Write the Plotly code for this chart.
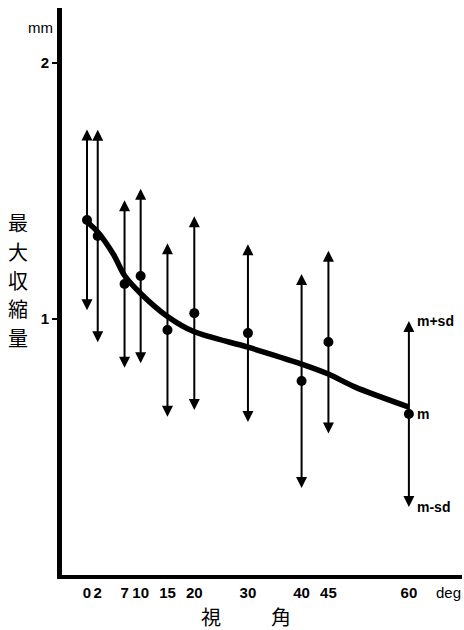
import plotly.graph_objects as go

# Viewing angle (deg) and maximum contraction (mm): mean and standard deviation
angles = [0, 2, 7, 10, 15, 20, 30, 40, 45, 60]
means = [1.387, 1.324, 1.137, 1.168, 0.957, 1.023, 0.945, 0.758, 0.910, 0.629]
sds = [0.353, 0.415, 0.327, 0.341, 0.339, 0.378, 0.347, 0.418, 0.357, 0.363]

# Smoothed trend curve
curve_x = [0, 2, 5, 7, 10, 15, 20, 30, 40, 45, 50, 60]
curve_y = [1.38, 1.34, 1.25, 1.17, 1.10, 1.01, 0.95, 0.89, 0.824, 0.785, 0.734, 0.656]

x_tick_vals = angles
x_tick_text = ["0", "2", "7", "10", "15", "20", "30", "40", "45", "60"]
y_tick_vals = [1, 2]
y_tick_text = ["1", "2"]

y_title_chars = ["最", "大", "収", "縮", "量"]
x_title_chars = ["視", "角"]

LAT = "Liberation Sans"
CJK = "Noto Sans CJK JP"

W, H = 464, 630
ML, MR, MT, MB = 62, 2, 8, 55
pw, ph = W - ML - MR, H - MT - MB


def px_to_paper(px, py):
    return (px - ML) / pw, (H - MB - py) / ph


fig = go.Figure()

fig.add_trace(go.Scatter(
    x=curve_x, y=curve_y, mode="lines",
    line=dict(color="black", width=5.5, shape="spline", smoothing=0.8),
    hoverinfo="skip",
))

fig.add_trace(go.Scatter(
    x=angles, y=means, mode="markers",
    marker=dict(color="black", size=10, symbol="circle"),
))

annotations = []
# m ± sd drawn as double-headed arrows
for a, m, s in zip(angles, means, sds):
    for tip in (m + s, m - s):
        annotations.append(dict(
            x=a, y=tip, ax=a, ay=m, xref="x", yref="y", axref="x", ayref="y",
            text="", showarrow=True, arrowhead=2, arrowsize=1.1, arrowwidth=2,
            arrowcolor="black", standoff=0, startstandoff=0,
        ))

# Legend labels beside the 60 deg bar
last_a, last_m, last_s = angles[-1], means[-1], sds[-1]
for yv, txt in ((last_m + last_s, "m+sd"), (last_m, "m"), (last_m - last_s, "m-sd")):
    annotations.append(dict(
        x=last_a, y=yv, xref="x", yref="y", text=txt, showarrow=False,
        xanchor="left", yanchor="middle", xshift=6,
        font=dict(family=LAT, size=14, color="black", weight="bold"),
    ))

# Free-standing labels, placed in pixels
cjk_font = dict(family=CJK, size=20, color="black")
free_labels = [
    (40, 27, "mm", dict(family=LAT, size=15, color="black")),
    (448, 592, "deg", dict(family=LAT, size=15, color="black")),
]
for ch, py in zip(y_title_chars, [222, 251, 280, 308, 337]):
    free_labels.append((18, py, ch, cjk_font))
for ch, px in zip(x_title_chars, [211, 281]):
    free_labels.append((px, 616, ch, cjk_font))

for px, py, txt, fnt in free_labels:
    xp, yp = px_to_paper(px, py)
    annotations.append(dict(
        x=xp, y=yp, xref="paper", yref="paper", text=txt, showarrow=False,
        xanchor="center", yanchor="middle", align="center", font=fnt,
    ))

fig.update_layout(
    width=W, height=H,
    margin=dict(l=ML, r=MR, t=MT, b=MB, pad=0),
    paper_bgcolor="white", plot_bgcolor="white",
    showlegend=False,
    annotations=annotations,
    xaxis=dict(
        range=[-4.66, 69.9], showgrid=False, zeroline=False,
        showline=True, linecolor="black", linewidth=4,
        tickmode="array", tickvals=x_tick_vals, ticktext=x_tick_text,
        ticks="", ticklabelstandoff=1,
        tickfont=dict(family=LAT, size=15, color="black", weight="bold"),
    ),
    yaxis=dict(
        range=[0.0, 2.215], showgrid=False, zeroline=False,
        showline=True, linecolor="black", linewidth=5,
        tickmode="array", tickvals=y_tick_vals, ticktext=y_tick_text,
        ticks="outside", ticklen=5, tickwidth=2, tickcolor="black",
        tickfont=dict(family=LAT, size=15, color="black", weight="bold"),
    ),
)

fig.write_html("out.html")
